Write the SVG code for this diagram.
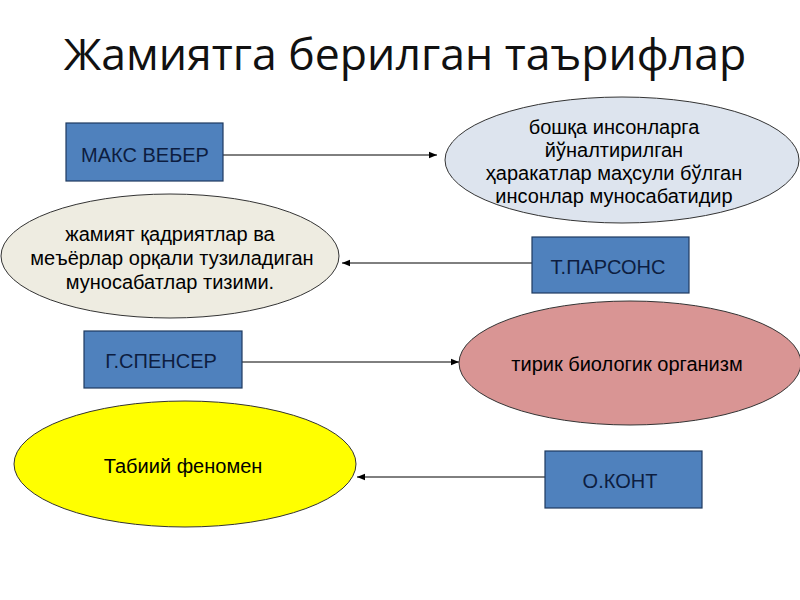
<svg xmlns="http://www.w3.org/2000/svg" width="800" height="600" viewBox="0 0 800 600">
<defs>
<marker id="arr" viewBox="0 0 10 10" refX="10" refY="5" markerWidth="8" markerHeight="8" markerUnits="userSpaceOnUse" orient="auto">
<path d="M0,1 L10,5 L0,9 z" fill="#000"/>
</marker>
<style>
.box{fill:#4f81bd;stroke:#1f3a5f;stroke-width:1.2}
.bt{font-family:"Liberation Sans",Arial,sans-serif;font-size:20px;fill:#0d1d40;text-anchor:middle}
.et{font-family:"Liberation Sans",Arial,sans-serif;font-size:20px;fill:#000;text-anchor:middle}
.ell{stroke:#333;stroke-width:1}
.conn{stroke:#000;stroke-width:1;fill:none;marker-end:url(#arr)}
</style>
</defs>
<rect width="800" height="600" fill="#fff"/>
<text x="405" y="70" font-family="'Open Sans','Noto Sans',sans-serif" font-size="44.6" fill="#111" text-anchor="middle">Жамиятга берилган таърифлар</text>

<g id="connectors">
<line class="conn" x1="223" y1="155" x2="437" y2="155"/>
<line class="conn" x1="532" y1="263" x2="342" y2="263"/>
<line class="conn" x1="242" y1="362" x2="459" y2="362"/>
<line class="conn" x1="545" y1="477" x2="357" y2="477"/>
</g>

<g id="weber">
<rect class="box" x="66" y="123" width="157" height="58"/>
<text class="bt" x="145" y="162">МАКС ВЕБЕР</text>
</g>
<g id="def-weber">
<ellipse class="ell" cx="622" cy="160" rx="177" ry="63" fill="#dde4ee"/>
<text class="et" x="614" y="134">бошқа инсонларга</text>
<text class="et" x="614" y="157">йўналтирилган</text>
<text class="et" x="614" y="180">ҳаракатлар маҳсули бўлган</text>
<text class="et" x="614" y="203">инсонлар муносабатидир</text>
</g>
<g id="def-parsons">
<ellipse class="ell" cx="170" cy="256" rx="169" ry="62" fill="#eeece1"/>
<text class="et" x="170" y="241">жамият қадриятлар ва</text>
<text class="et" x="172" y="265">меъёрлар орқали тузиладиган</text>
<text class="et" x="170" y="289">муносабатлар тизими.</text>
</g>
<g id="parsons">
<rect class="box" x="532" y="237" width="157" height="56"/>
<text class="bt" x="608" y="274">Т.ПАРСОНС</text>
</g>
<g id="spencer">
<rect class="box" x="84" y="331" width="158" height="57"/>
<text class="bt" x="161" y="368">Г.СПЕНСЕР</text>
</g>
<g id="def-spencer">
<ellipse class="ell" cx="630" cy="363" rx="171" ry="62" fill="#d99594"/>
<text class="et" x="627" y="371">тирик биологик организм</text>
</g>
<g id="def-comte">
<ellipse class="ell" cx="185" cy="464" rx="171" ry="63" fill="#ffff00"/>
<text class="et" x="183" y="473">Табиий феномен</text>
</g>
<g id="comte">
<rect class="box" x="545" y="451" width="157" height="57"/>
<text class="bt" x="620" y="488">О.КОНТ</text>
</g>
</svg>
